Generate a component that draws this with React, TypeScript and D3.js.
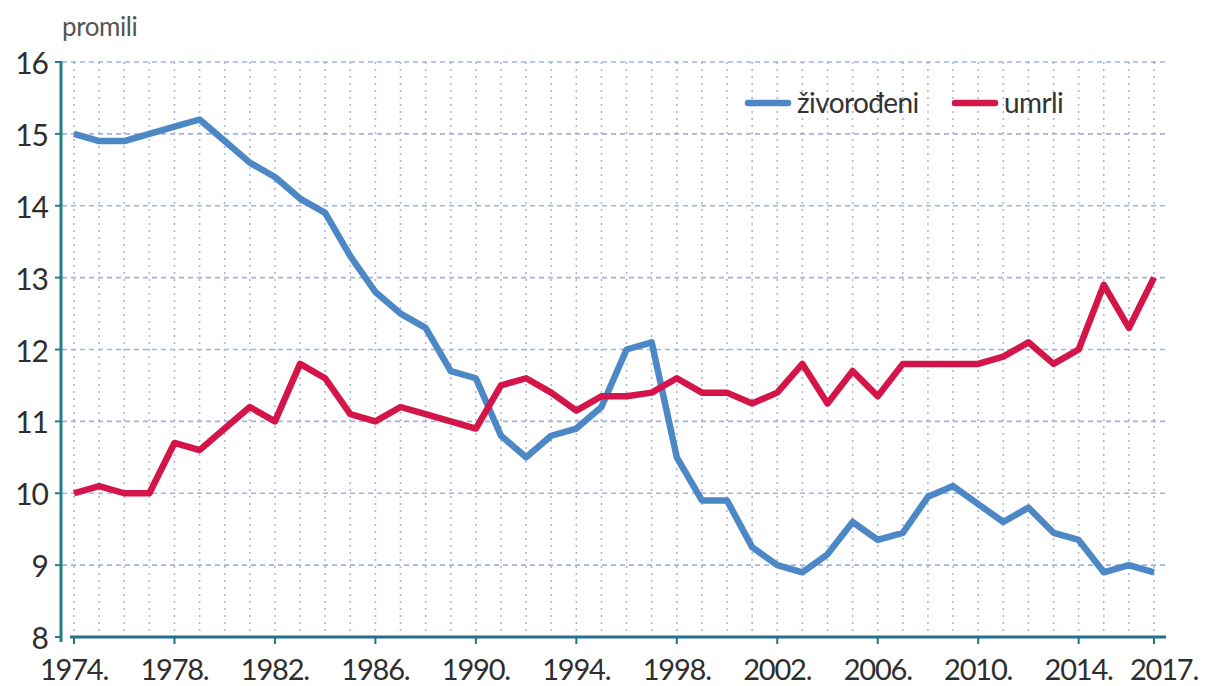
import React, { useEffect, useRef } from 'react';
import * as d3 from 'd3';

// godine 1974.-2017.
const years: number[] = d3.range(1974, 2018);

// živorođeni na 1000 stanovnika
const zivorodeni: number[] = [
  15.0, 14.9, 14.9, 15.0, 15.1, 15.2, 14.9, 14.6, 14.4, 14.1,
  13.9, 13.3, 12.8, 12.5, 12.3, 11.7, 11.6, 10.8, 10.5, 10.8,
  10.9, 11.2, 12.0, 12.1, 10.5, 9.9, 9.9, 9.25, 9.0, 8.9,
  9.15, 9.6, 9.35, 9.45, 9.95, 10.1, 9.85, 9.6, 9.8, 9.45,
  9.35, 8.9, 9.0, 8.9,
];

// umrli na 1000 stanovnika
const umrli: number[] = [
  10.0, 10.1, 10.0, 10.0, 10.7, 10.6, 10.9, 11.2, 11.0, 11.8,
  11.6, 11.1, 11.0, 11.2, 11.1, 11.0, 10.9, 11.5, 11.6, 11.4,
  11.15, 11.35, 11.35, 11.4, 11.6, 11.4, 11.4, 11.25, 11.4, 11.8,
  11.25, 11.7, 11.35, 11.8, 11.8, 11.8, 11.8, 11.9, 12.1, 11.8,
  12.0, 12.9, 12.3, 13.0,
];

const yTicks: number[] = [8, 9, 10, 11, 12, 13, 14, 15, 16];
const xTickYears: number[] = [1974, 1978, 1982, 1986, 1990, 1994, 1998, 2002, 2006, 2010, 2014, 2017];

const series = [
  { name: 'živorođeni', values: zivorodeni, color: '#4c87c6' },
  { name: 'umrli', values: umrli, color: '#d4154a' },
];

export default function App() {
  const ref = useRef<SVGSVGElement>(null);

  useEffect(() => {
    const svg = d3.select(ref.current);
    svg.selectAll('*').remove();

    const font = 'Lato, "Open Sans", sans-serif';

    // scales
    const x = d3.scaleLinear().domain([1974, 2017]).range([74, 1154]);
    const y = d3.scaleLinear().domain([8, 16]).range([637, 62]);

    svg.append('rect').attr('width', 1208).attr('height', 686).attr('fill', '#fff');

    // vertical dotted grid, one per year
    svg.append('g')
      .selectAll('line')
      .data(years)
      .join('line')
      .attr('x1', d => x(d)).attr('x2', d => x(d))
      .attr('y1', y(16)).attr('y2', y(8))
      .attr('stroke', '#a9b6e0')
      .attr('stroke-width', 1.6)
      .attr('stroke-dasharray', '2,5');

    // horizontal dashed grid
    svg.append('g')
      .selectAll('line')
      .data(yTicks.filter(d => d > 8))
      .join('line')
      .attr('x1', 62).attr('x2', 1165)
      .attr('y1', d => y(d)).attr('y2', d => y(d))
      .attr('stroke', '#a3b2dd')
      .attr('stroke-width', 1.6)
      .attr('stroke-dasharray', '5,4');

    // y axis
    svg.append('line')
      .attr('x1', 61).attr('x2', 61)
      .attr('y1', y(16) - 1).attr('y2', y(8) + 5)
      .attr('stroke', '#23808a').attr('stroke-width', 3);
    svg.append('g')
      .selectAll('line')
      .data(yTicks)
      .join('line')
      .attr('x1', 55).attr('x2', 61)
      .attr('y1', d => y(d)).attr('y2', d => y(d))
      .attr('stroke', '#23808a').attr('stroke-width', 2);
    svg.append('g')
      .selectAll('text')
      .data(yTicks)
      .join('text')
      .attr('x', 48)
      .attr('y', d => y(d) + 12)
      .attr('text-anchor', 'end')
      .attr('font-family', font)
      .attr('font-size', 30)
      .attr('letter-spacing', -1)
      .attr('fill', '#2e2e2e')
      .text(d => d);

    // x axis
    svg.append('line')
      .attr('x1', 70).attr('x2', 1166)
      .attr('y1', y(8)).attr('y2', y(8))
      .attr('stroke', '#23708c').attr('stroke-width', 3);
    svg.append('g')
      .selectAll('line')
      .data(xTickYears)
      .join('line')
      .attr('x1', d => x(d)).attr('x2', d => x(d))
      .attr('y1', y(8)).attr('y2', y(8) + 7)
      .attr('stroke', '#23708c').attr('stroke-width', 2);
    svg.append('g')
      .selectAll('text')
      .data(xTickYears)
      .join('text')
      .attr('x', d => x(d) + (d === 2017 ? 10 : 0))
      .attr('y', 680)
      .attr('text-anchor', 'middle')
      .attr('font-family', font)
      .attr('font-size', 29)
      .attr('letter-spacing', -1.2)
      .attr('fill', '#2e2e2e')
      .text(d => d + '.');

    // unit label
    svg.append('text')
      .attr('x', 62).attr('y', 36)
      .attr('font-family', font)
      .attr('font-size', 26)
      .attr('letter-spacing', -0.4)
      .attr('fill', '#555')
      .text('promili');

    // lines
    const line = d3.line<number>()
      .x((d, i) => x(years[i]))
      .y(d => y(d));

    series.forEach(s => {
      svg.append('path')
        .datum(s.values)
        .attr('fill', 'none')
        .attr('stroke', s.color)
        .attr('stroke-width', 6.5)
        .attr('stroke-linejoin', 'round')
        .attr('d', line);
    });

    // legend
    const legendPos = [748, 955];
    series.forEach((s, i) => {
      const g = svg.append('g').attr('transform', `translate(${legendPos[i]},103)`);
      g.append('line')
        .attr('x1', 0).attr('x2', 40)
        .attr('stroke', s.color).attr('stroke-width', 6.5)
        .attr('stroke-linecap', 'round');
      g.append('text')
        .attr('x', 49).attr('y', 10)
        .attr('font-family', font)
        .attr('font-size', 28)
        .attr('letter-spacing', -0.6)
        .attr('fill', '#333')
        .text(s.name);
    });
  }, []);

  return (
    <svg
      ref={ref}
      width={1208}
      height={686}
      style={{ position: 'absolute', left: 0, top: 0, display: 'block' }}
    />
  );
}
